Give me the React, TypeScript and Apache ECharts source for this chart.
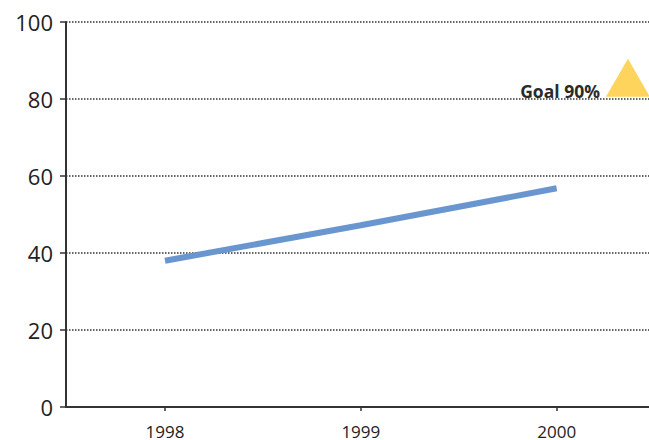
import React, { useEffect, useRef } from "react";
import * as echarts from "echarts";

const years = [1998, 1999, 2000];
const values = [38, 47.2, 56.8];
const goalPoint = [2000.364, 85.5];
const goalLabel = "Goal 90%";
const yTicks = [0, 20, 40, 60, 80, 100];

export default function App() {
  const ref = useRef<HTMLDivElement>(null);
  useEffect(() => {
    document.body.style.margin = "0";
    const chart = echarts.init(ref.current!, null, { renderer: "svg" });
    chart.setOption({
      animation: false,
      grid: { left: 66, right: 0, top: 22, bottom: 33, containLabel: false },
      xAxis: {
        type: "value",
        min: 1997.4945,
        max: 2000.4715,
        axisLine: { show: true, onZero: false, lineStyle: { color: "#333", width: 2 } },
        axisTick: { show: true, customValues: years, length: 4, inside: false, lineStyle: { color: "#333", width: 1.5 } },
        axisLabel: {
          customValues: years,
          formatter: (v: number) => String(v),
          color: "#222",
          fontSize: 17,
          fontFamily: "Open Sans",
          margin: 16,
        },
        splitLine: { show: false },
      },
      yAxis: {
        type: "value",
        min: yTicks[0],
        max: yTicks[yTicks.length - 1],
        interval: 20,
        axisLine: { show: true, lineStyle: { color: "#333", width: 2 } },
        axisTick: { show: true, length: 6, lineStyle: { color: "#333", width: 1.5 } },
        axisLabel: {
          color: "#222",
          fontSize: 22,
          fontFamily: "Open Sans",
          margin: 13,
        },
        splitLine: { show: true, lineStyle: { color: "#333", type: [1.5, 1.5], width: 1.5 } },
      },
      series: [
        {
          type: "line",
          data: years.map((y, i) => [y, values[i]]),
          symbol: "none",
          lineStyle: { color: "#6a96cf", width: 6, cap: "butt" },
          z: 3,
        },
        {
          type: "scatter",
          data: [goalPoint],
          symbol: "triangle",
          symbolSize: [44, 38],
          itemStyle: { color: "#ffd45c", opacity: 1 },
          clip: false,
          label: {
            show: true,
            position: "left",
            distance: 6,
            offset: [0, 13],
            formatter: goalLabel,
            color: "#2a2a2a",
            fontSize: 17.5,
            fontWeight: "bold",
            fontFamily: "'Open Sans', sans-serif",
          },
          z: 4,
        },
      ],
    });
    return () => chart.dispose();
  }, []);
  return <div ref={ref} style={{ width: 649, height: 440 }} />;
}
